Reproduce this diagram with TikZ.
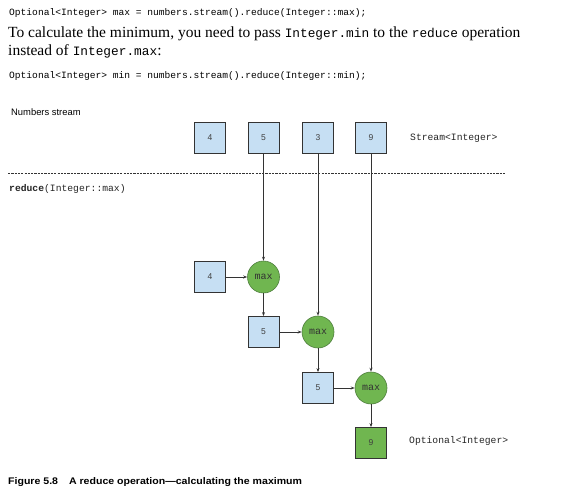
\documentclass[tikz,border=0pt]{standalone}
\usepackage{fontspec}
\setmainfont{Liberation Serif}
\setsansfont{Liberation Sans}
\setmonofont{Liberation Mono}
\newfontfamily\capfont[FakeStretch=1.1]{Liberation Sans}
\usetikzlibrary{arrows.meta}
\definecolor{boxblue}{HTML}{C6DFF3}
\definecolor{opgreen}{HTML}{70B650}
\definecolor{opborder}{HTML}{4F7F3E}
\definecolor{edgegray}{HTML}{333333}
\newcommand{\inlinecode}[1]{{\ttfamily\fontsize{12.8}{16}\selectfont #1}}
\tikzset{
  txt/.style={anchor=base west, inner sep=0pt},
  codefont/.style={font=\ttfamily\fontsize{9.6}{11}\selectfont},
  numbox/.style={draw=edgegray, line width=0.8pt, fill=boxblue, minimum width=31pt, minimum height=31pt, inner sep=0pt, font=\sffamily\fontsize{8.5}{10}\selectfont, text=black!75},
  resbox/.style={numbox, fill=opgreen},
  opnode/.style={circle, draw=opborder, line width=0.6pt, fill=opgreen, minimum size=32pt, inner sep=0pt, font=\ttfamily\fontsize{10}{12}\selectfont, text=black!80},
  flow/.style={draw=edgegray, line width=0.8pt, -{Stealth[length=4pt,width=3pt]}},
  sep/.style={draw=black!80, line width=0.6pt, dash pattern=on 2.2pt off 1.1pt}
}
\begin{document}
\begin{tikzpicture}[x=1pt,y=-1pt]
\useasboundingbox (0,0) rectangle (577,502);
% text
\node[txt, codefont] (c1) at (9,15.5) {Optional<Integer> max = numbers.stream().reduce(Integer::max);};
\node[txt, font=\fontsize{15.5}{18}\selectfont] (p1) at (8,38) {To calculate the minimum, you need to pass \inlinecode{Integer.min} to the \inlinecode{reduce} operation};
\node[txt, font=\fontsize{15.5}{18}\selectfont] (p2) at (8,56) {instead of \inlinecode{Integer.max}:};
\node[txt, codefont] (c2) at (9,79) {Optional<Integer> min = numbers.stream().reduce(Integer::min);};
\node[txt, font=\sffamily\fontsize{9.4}{11}\selectfont] (ns) at (11,116) {Numbers stream};
\node[txt, font=\ttfamily\fontsize{9.7}{11}\selectfont, text=black!85] (st) at (410,141) {Stream<Integer>};
\node[txt, font=\ttfamily\fontsize{9.7}{11}\selectfont, text=black!85] (red) at (9,192) {\textbf{reduce}(Integer::max)};
\node[txt, font=\ttfamily\fontsize{9.7}{11}\selectfont, text=black!85] (opt) at (409,443.5) {Optional<Integer>};
\node[txt, font=\capfont\bfseries\fontsize{9.6}{11}\selectfont] (cap) at (8,484.5) {Figure 5.8\hspace{11pt}A reduce operation—calculating the maximum};
% separator
\coordinate (sl) at (8,173);
\coordinate (sr) at (506,173);
\draw[sep] (sl) -- (sr);
% top stream
\node[numbox] (t4) at (210,138) {4};
\node[numbox] (t5) at (263.5,138) {5};
\node[numbox] (t3) at (318,138) {3};
\node[numbox] (t9) at (371,138) {9};
% reduction
\node[numbox] (a4) at (210,277) {4};
\node[opnode] (m1) at (263.5,277) {max};
\node[numbox] (b5) at (263.5,332) {5};
\node[opnode] (m2) at (318,332) {max};
\node[numbox] (c5) at (318,388) {5};
\node[opnode] (m3) at (371,388) {max};
\node[resbox] (r9) at (371,443) {9};
% connectors
\draw[flow] (t5) -- (m1);
\draw[flow] (t3) -- (m2);
\draw[flow] (t9) -- (m3);
\draw[flow] (a4) -- (m1);
\draw[flow] (m1) -- (b5);
\draw[flow] (b5) -- (m2);
\draw[flow] (m2) -- (c5);
\draw[flow] (c5) -- (m3);
\draw[flow] (m3) -- (r9);
\end{tikzpicture}
\end{document}
